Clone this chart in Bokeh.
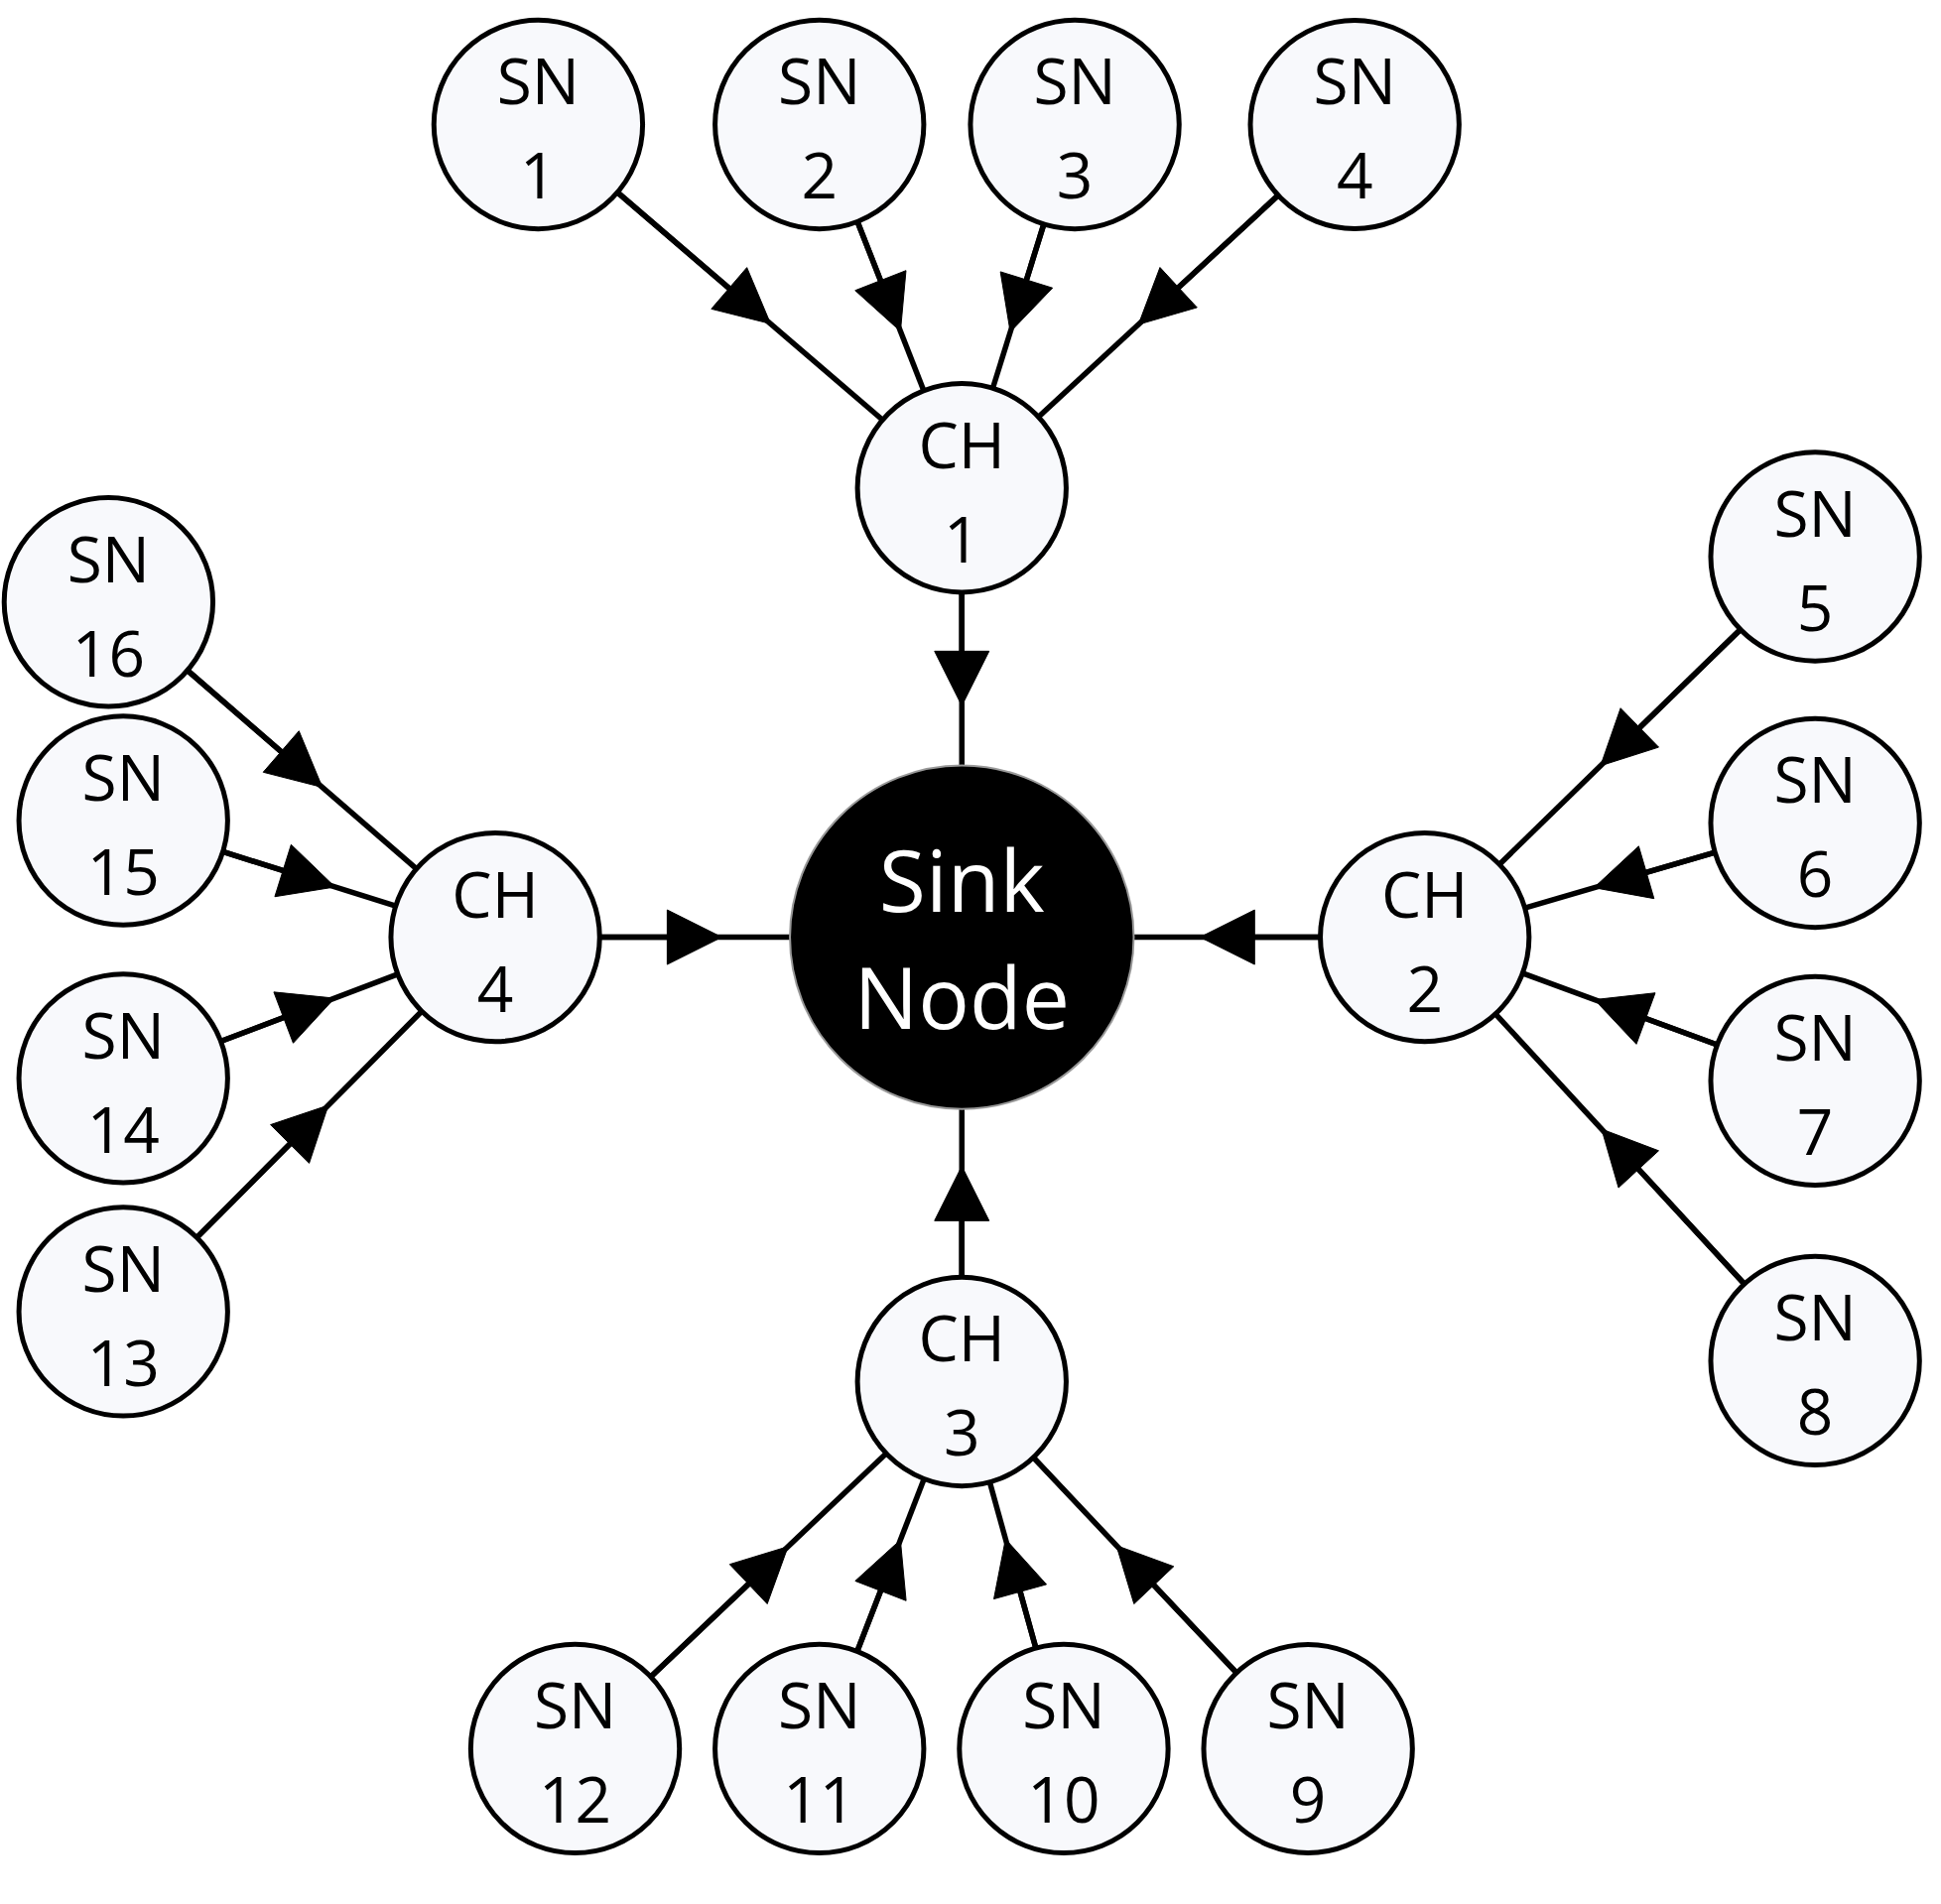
import math
from bokeh.plotting import figure
from bokeh.models import Range1d, Arrow, NormalHead
from bokeh.core.properties import value
from bokeh.embed import file_html
from bokeh.resources import INLINE

# node layout (picture coordinates, y downward)
names = ["CH1", "CH2", "CH3", "CH4",
         "SN1", "SN2", "SN3", "SN4", "SN5", "SN6", "SN7", "SN8",
         "SN9", "SN10", "SN11", "SN12", "SN13", "SN14", "SN15", "SN16"]
xs = [783, 1160, 783, 403,
      438, 667, 875, 1103, 1478, 1478, 1478, 1478,
      1065, 866, 667, 468, 100, 100, 100, 88]
ys = [397, 763, 1125, 763,
      101, 101, 101, 101, 453, 670, 880, 1108,
      1424, 1424, 1424, 1424, 1068, 878, 668, 490]
labels = ["CH\n1", "CH\n2", "CH\n3", "CH\n4"] + ["SN\n%d" % i for i in range(1, 17)]
sink_x, sink_y = 783, 763
node_r = 85
sink_r = 140

# edges: (source, target)
edges = [("SN1", "CH1"), ("SN2", "CH1"), ("SN3", "CH1"), ("SN4", "CH1"),
         ("SN5", "CH2"), ("SN6", "CH2"), ("SN7", "CH2"), ("SN8", "CH2"),
         ("SN9", "CH3"), ("SN10", "CH3"), ("SN11", "CH3"), ("SN12", "CH3"),
         ("SN13", "CH4"), ("SN14", "CH4"), ("SN15", "CH4"), ("SN16", "CH4"),
         ("CH1", "SINK"), ("CH2", "SINK"), ("CH3", "SINK"), ("CH4", "SINK")]

pos = {n: (x, y, node_r) for n, x, y in zip(names, xs, ys)}
pos["SINK"] = (sink_x, sink_y, sink_r)

p = figure(width=1940, height=1903, output_backend="svg", toolbar_location=None,
           tools="", x_range=Range1d(0, 1568), y_range=Range1d(1538, 0),
           min_border=0)
p.axis.visible = False
p.grid.visible = False
p.outline_line_color = None

for a, b in edges:
    x0, y0, r0 = pos[a]
    x1, y1, r1 = pos[b]
    d = math.hypot(x1 - x0, y1 - y0)
    ux, uy = (x1 - x0) / d, (y1 - y0) / d
    sx, sy = x0 + ux * r0, y0 + uy * r0
    ex, ey = x1 - ux * r1, y1 - uy * r1
    p.line([sx, ex], [sy, ey], line_color="black", line_width=5.5)
    mx, my = (sx + ex) / 2 + ux * 22, (sy + ey) / 2 + uy * 22
    p.add_layout(Arrow(end=NormalHead(size=55, fill_color="black", line_color="black"),
                       x_start=sx, y_start=sy, x_end=mx, y_end=my,
                       line_color="black", line_width=5.5))

p.circle(xs, ys, radius=node_r, fill_color="#f8f9fc", line_color="black", line_width=5)
p.circle([sink_x], [sink_y], radius=sink_r, fill_color="black", line_color="#999999", line_width=2)

top = [l.split("\n")[0] for l in labels]
bot = [l.split("\n")[1] for l in labels]
p.text(xs, [y - 36 for y in ys], text=top, text_align="center", text_baseline="middle",
       text_font=value("Open Sans"), text_font_size="64px", text_color="black")
p.text(xs, [y + 42 for y in ys], text=bot, text_align="center", text_baseline="middle",
       text_font=value("Open Sans"), text_font_size="64px", text_color="black")
p.text([sink_x, sink_x], [sink_y - 48, sink_y + 48], text=["Sink", "Node"],
       text_align="center", text_baseline="middle",
       text_font=value("Open Sans"), text_font_size="86px", text_color="white")

open("out.html", "w").write(file_html(p, INLINE))
